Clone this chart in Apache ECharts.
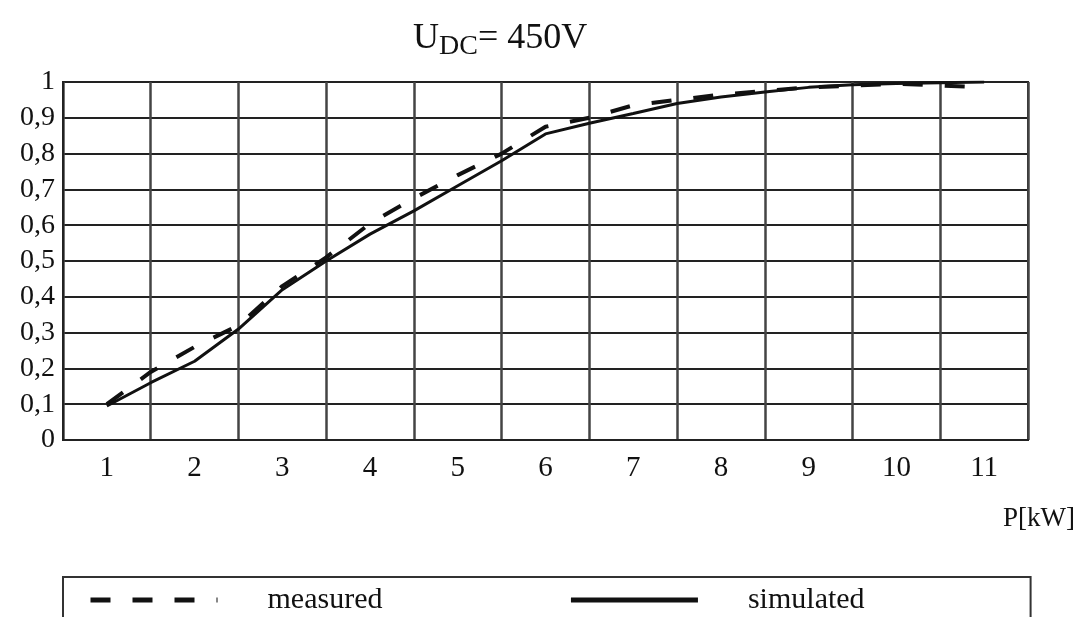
<!DOCTYPE html>
<html style="height: 100%">
<head>
	<meta charset="utf-8">
	<title>UDC 450V</title>
	<script src="https://cdn.jsdelivr.net/npm/echarts@6/dist/echarts.min.js"></script>
</head>
<body style="height: 100%; margin: 0; background: #fff">
	<div id="main" style="width: 1078px; height: 617px"></div>
	<script type="text/javascript">

		// P [kW] tick labels (category bands) and sample points
		var pLabels = ['1', '2', '3', '4', '5', '6', '7', '8', '9', '10', '11'];
		var pPoints = [1, 1.5, 2, 2.5, 3, 3.5, 4, 4.5, 5, 5.5, 6, 6.5, 7, 7.5, 8, 8.5, 9, 9.5, 10, 10.5, 11];

		var measured = [0.10, 0.19, 0.26, 0.32, 0.43, 0.51, 0.605, 0.675, 0.74, 0.80, 0.875,
			0.90, 0.935, 0.95, 0.965, 0.975, 0.985, 0.99, 0.995, 0.99, 0.985];
		var simulated = [0.095, 0.16, 0.22, 0.31, 0.42, 0.50, 0.575, 0.64, 0.71, 0.78, 0.855,
			0.885, 0.912, 0.94, 0.958, 0.972, 0.985, 0.992, 0.996, 0.998, 1.0];

		var pairs = function(ys){
			var out = [];
			for (var i = 0; i < pPoints.length; i++) out.push([pPoints[i], ys[i]]);
			return out;
		};

		var font = 'Liberation Serif';
		var myChart = echarts.init(document.getElementById('main'));

		var option = {
			backgroundColor: '#fff',
			animation: false,
			title: [
				{
					text: 'U{sub|DC}= 450V',
					left: 408,
					top: 12,
					textStyle: {
						fontFamily: font,
						fontSize: 36,
						fontWeight: 'normal',
						color: '#111',
						rich: {
							sub: {
								fontFamily: font,
								fontSize: 28,
								color: '#111',
								padding: [16, 0, 0, 0]
							}
						}
					}
				},
				{
					// axis name, placed under the last tick label like in the paper figure
					text: 'P[kW]',
					right: 0,
					top: 505,
					padding: [0, 3, 0, 0],
					textStyle: {
						fontFamily: font,
						fontSize: 27,
						fontWeight: 'normal',
						color: '#111'
					}
				}
			],
			grid: {
				left: 63,
				right: 50,
				top: 82,
				bottom: 177,
				outerBoundsMode: 'none',
				containLabel: false,
				show: true,
				borderColor: '#222',
				borderWidth: 2
			},
			legend: {
				left: 63,
				top: 577,
				padding: [8, 166, 30, 25],
				itemGap: 186,
				itemWidth: 127,
				itemHeight: 20,
				borderColor: '#333',
				borderWidth: 2,
				itemStyle: { opacity: 0 },
				lineStyle: { width: 5 },
				textStyle: {
					fontFamily: font,
					fontSize: 30,
					color: '#111',
					padding: [0, 0, 0, 45]
				},
				data: ['measured', 'simulated']
			},
			xAxis: [
				{
					type: 'category',
					data: pLabels,
					boundaryGap: true,
					axisLine: { lineStyle: { color: '#222', width: 2 } },
					axisTick: { show: false },
					axisLabel: {
						fontFamily: font,
						fontSize: 29,
						color: '#111',
						margin: 14
					},
					splitLine: { show: true, lineStyle: { color: '#444', width: 2.5 } }
				},
				{
					type: 'value',
					min: 0.5,
					max: 11.5,
					show: false,
					splitLine: { show: false }
				}
			],
			yAxis: {
				type: 'value',
				min: 0,
				max: 1,
				interval: 0.1,
				axisLine: { show: true, lineStyle: { color: '#222', width: 2 } },
				axisTick: { show: false },
				axisLabel: {
					fontFamily: font,
					fontSize: 28,
					color: '#111',
					margin: 8,
					formatter: function(v){
						return String(Math.round(v * 10) / 10).replace('.', ',');
					}
				},
				splitLine: { lineStyle: { color: '#222', width: 2 } }
			},
			series: [
				{
					name: 'measured',
					type: 'line',
					xAxisIndex: 1,
					symbol: 'none',
					lineStyle: { color: '#111', width: 4, type: [20, 22] },
					itemStyle: { color: '#111' },
					data: pairs(measured)
				},
				{
					name: 'simulated',
					type: 'line',
					xAxisIndex: 1,
					symbol: 'none',
					lineStyle: { color: '#111', width: 3 },
					itemStyle: { color: '#111' },
					data: pairs(simulated)
				}
			]
		};

		myChart.setOption(option);
	</script>
</body>
</html>
